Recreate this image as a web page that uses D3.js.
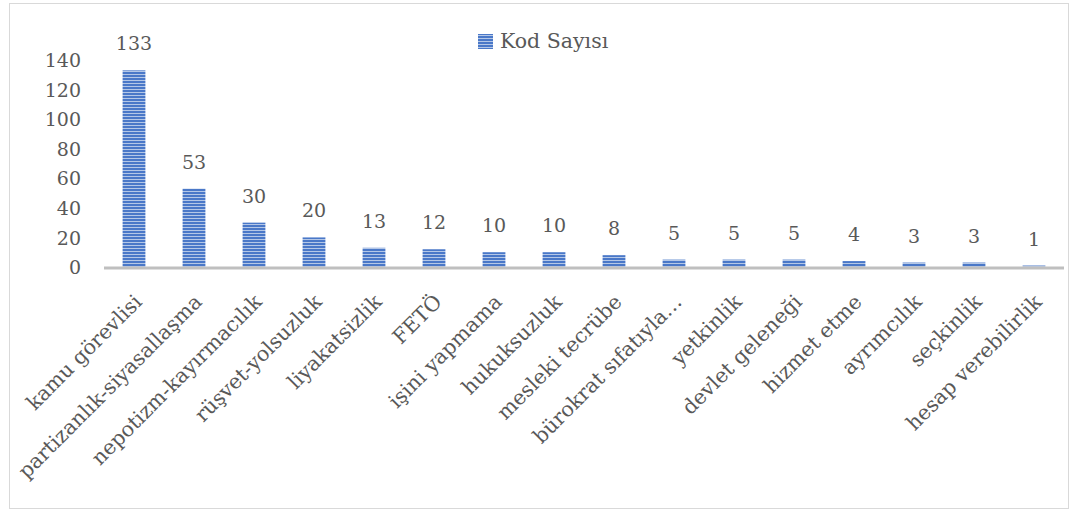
<!DOCTYPE html>
<html><head><meta charset="utf-8">
<script src="https://cdn.jsdelivr.net/npm/d3@7"></script>
<style>body{margin:0;background:#fff}svg{display:block}</style>
</head><body>
<script>
const categories = ["kamu görevlisi","partizanlık-siyasallaşma","nepotizm-kayırmacılık","rüşvet-yolsuzluk","liyakatsizlik","FETÖ","işini yapmama","hukuksuzluk","mesleki tecrübe","bürokrat sıfatıyla…","yetkinlik","devlet geleneği","hizmet etme","ayrımcılık","seçkinlik","hesap verebilirlik"];
const values = [133,53,30,20,13,12,10,10,8,5,5,5,4,3,3,1];
const yTicks = [0,20,40,60,80,100,120,140];
const seriesName = "Kod Sayısı";

const W = 1076, H = 511;
const font = "'DejaVu Serif', serif";
const textColor = "#595959";
const fs = 19;
const svg = d3.select("body").append("svg").attr("width", W).attr("height", H);

const defs = svg.append("defs");
const pat = defs.append("pattern").attr("id","stripe").attr("patternUnits","userSpaceOnUse")
  .attr("width",8).attr("height",3);
pat.append("rect").attr("width",8).attr("height",3).attr("fill","#b4c7e7");
pat.append("rect").attr("width",8).attr("height",2).attr("fill","#4a78c8");

svg.append("rect").attr("x",9.5).attr("y",3.5).attr("width",1059).attr("height",505)
  .attr("fill","#fff").attr("stroke","#d9d9d9");

const x = d3.scaleBand().domain(categories).range([104,1064]).paddingInner(0.62).paddingOuter(0.31);
const y = d3.scaleLinear().domain([0,140]).range([267,60]);

// y axis labels
const yAxis = svg.append("g").attr("transform","translate(81,0)")
  .call(d3.axisLeft(y).tickValues(yTicks).tickSize(0).tickPadding(0));
yAxis.select(".domain").remove();
yAxis.selectAll("text").attr("font-family",font).attr("font-size",fs).attr("fill",textColor).attr("dy","0.35em");

// bars
svg.append("g").selectAll("rect").data(values).join("rect")
  .attr("x",(d,i)=>x(categories[i])).attr("width",x.bandwidth())
  .attr("y",d=>y(d)).attr("height",d=>y(0)-y(d)).attr("fill","url(#stripe)");

// x axis line
svg.append("line").attr("x1",104).attr("x2",1064).attr("y1",y(0)+1).attr("y2",y(0)+1)
  .attr("stroke","#bfbfbf").attr("stroke-width",3);

// value labels
svg.append("g").selectAll("text").data(values).join("text")
  .attr("x",(d,i)=>x(categories[i])+x.bandwidth()/2).attr("y",d=>y(d)-20)
  .attr("text-anchor","middle").attr("font-family",font).attr("font-size",fs).attr("fill",textColor)
  .text(d=>d);

// category labels
const xAxis = svg.append("g").attr("transform",`translate(0,${y(0)})`)
  .call(d3.axisBottom(x).tickSize(0).tickPadding(0));
xAxis.select(".domain").remove();
xAxis.selectAll("text").attr("font-family",font).attr("font-size",20.5).attr("fill",textColor)
  .attr("text-anchor","end").attr("y",0)
  .attr("transform","translate(4,31) rotate(-45)").attr("dy","0.35em");

// legend
svg.append("rect").attr("x",478).attr("y",34).attr("width",15).attr("height",15).attr("fill","url(#stripe)");
svg.append("text").attr("x",500).attr("y",48).attr("font-family",font).attr("font-size",20.5)
  .attr("fill",textColor).text(seriesName);
</script>
</body></html>
